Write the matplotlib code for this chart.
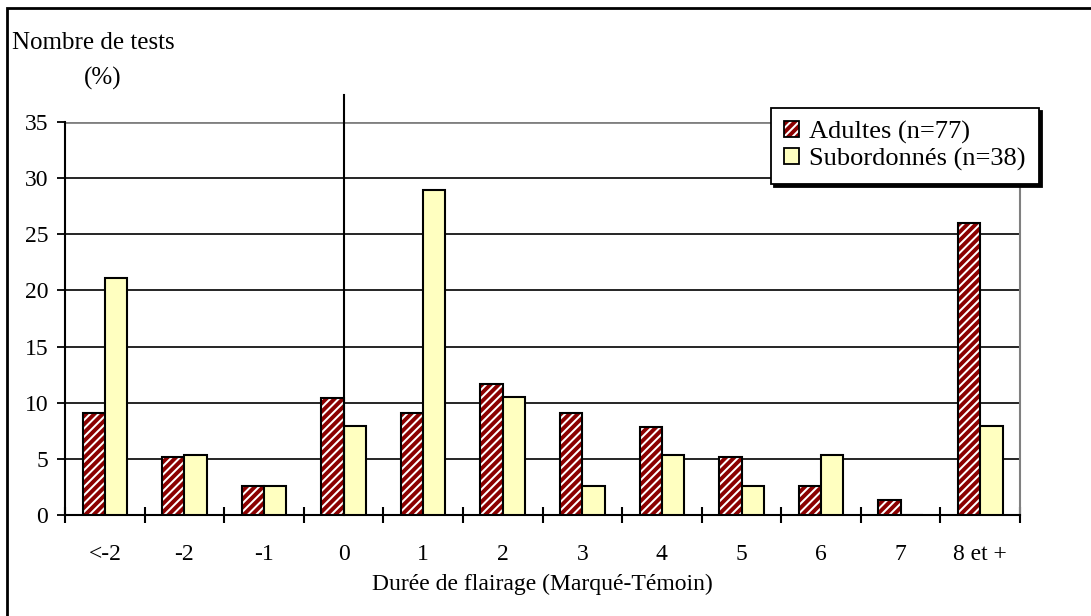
import numpy as np
import matplotlib
matplotlib.use("Agg")
import matplotlib.pyplot as plt
from matplotlib.patches import Rectangle

# Répartition des tests selon la différence de durée de flairage
categories = ["<-2", "-2", "-1", "0", "1", "2", "3", "4", "5", "6", "7", "8 et +"]
adultes = [9.1, 5.2, 2.6, 10.4, 9.1, 11.7, 9.1, 7.8, 5.2, 2.6, 1.3, 26.0]
subordonnes = [21.1, 5.3, 2.6, 7.9, 28.9, 10.5, 2.6, 5.3, 2.6, 5.3, 0.0, 7.9]
label_adultes = "Adultes (n=77)"
label_subordonnes = "Subordonnés (n=38)"
y_ticks = [0, 5, 10, 15, 20, 25, 30, 35]

plt.rcParams["font.family"] = ["Liberation Serif", "DejaVu Serif"]
plt.rcParams["hatch.linewidth"] = 2.8

rouge = "#8b0000"
jaune = "#ffffc0"

fig = plt.figure(figsize=(10.91, 6.16), dpi=100)
ax = fig.add_axes([0.0596, 0.164, 0.8754, 0.638])

x = np.arange(len(categories))
w = 0.28
# remplissage hachuré rouge puis contour noir
ax.bar(x - w / 2, adultes, w, facecolor="white", edgecolor=rouge,
       hatch="////", linewidth=0, zorder=3)
ax.bar(x - w / 2, adultes, w, fill=False, edgecolor="black",
       linewidth=1.5, zorder=3)
ax.bar(x + w / 2, subordonnes, w, facecolor=jaune, edgecolor="black",
       linewidth=1.5, zorder=3)

ax.set_xlim(-0.5, len(categories) - 0.5)
ax.set_ylim(0, 35)

# grille horizontale
for v in y_ticks[1:-1]:
    ax.axhline(v, color="black", linewidth=1.2, zorder=1)
ax.axhline(35, color="#808080", linewidth=2, zorder=1)

# ligne verticale au niveau de 0
ax.plot([3, 3], [0, 37.4], color="black", linewidth=1.5, clip_on=False, zorder=4)

ax.spines["top"].set_visible(False)
ax.spines["right"].set_color("#808080")
ax.spines["right"].set_linewidth(1.5)
ax.spines["left"].set_linewidth(1.5)
ax.spines["bottom"].set_linewidth(1.5)

ax.set_yticks(y_ticks)
ax.tick_params(axis="y", direction="out", length=6, width=1.3, labelsize=17, pad=6)
ax.set_xticks(x)
ax.set_xticklabels(categories)
ax.set_xticks(np.arange(len(categories) + 1) - 0.5, minor=True)
ax.tick_params(axis="x", which="major", length=0, labelsize=17, pad=21)
ax.tick_params(axis="x", which="minor", direction="inout", length=11, width=1.5)

ax.set_xlabel("Durée de flairage (Marqué-Témoin)", fontsize=17, labelpad=6)

fig.text(0.011, 0.93, "Nombre de tests", fontsize=18, va="center", ha="left")
fig.text(0.094, 0.872, "(%)", fontsize=18, va="center", ha="center")

# légende
h_adultes = Rectangle((0, 0), 1, 1, facecolor="white", edgecolor=rouge, hatch="////",
                      linewidth=0)
h_adultes_bord = Rectangle((0, 0), 1, 1, fill=False, edgecolor="black", linewidth=1.3)
h_sub = Rectangle((0, 0), 1, 1, facecolor=jaune, edgecolor="black", linewidth=1.3)
leg = ax.legend([(h_adultes, h_adultes_bord), h_sub], [label_adultes, label_subordonnes],
                loc="upper right", bbox_to_anchor=(1.02, 1.036), borderaxespad=0,
                fontsize=19, frameon=True, fancybox=False, handlelength=0.55,
                handleheight=0.55, handletextpad=0.4, borderpad=0.5,
                labelspacing=0.15, shadow={"color": "black", "alpha": 1})
leg.get_frame().set_edgecolor("black")
leg.get_frame().set_linewidth(1.3)
leg.get_frame().set_alpha(1)

# cadre extérieur
fig.patches.append(Rectangle((7 / 1091, -0.05), 1.2, 1 - 8 / 616 + 0.05,
                             transform=fig.transFigure, fill=False,
                             edgecolor="black", linewidth=2, zorder=0))

fig.savefig("out.png", dpi=100)
